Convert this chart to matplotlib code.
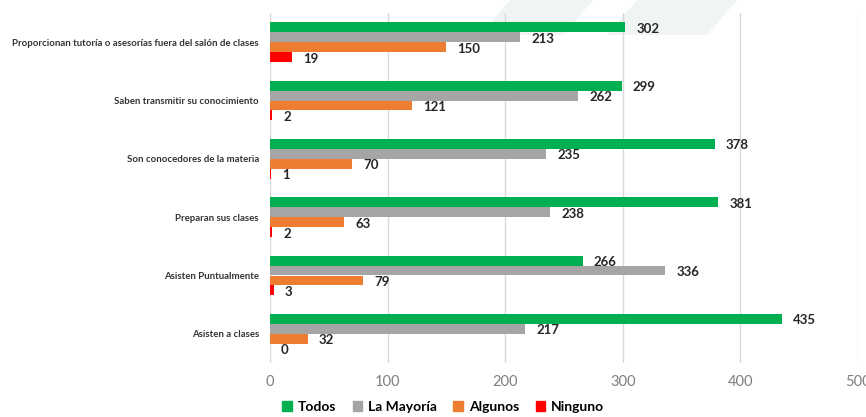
import matplotlib
matplotlib.use("Agg")
import matplotlib.pyplot as plt
from matplotlib.patches import Polygon
import numpy as np

categories = [
    "Proporcionan tutoría o asesorías fuera del salón de clases",
    "Saben transmitir su conocimiento",
    "Son conocedores de la materia",
    "Preparan sus clases",
    "Asisten Puntualmente",
    "Asisten a clases",
]
series_names = ["Todos", "La Mayoría", "Algunos", "Ninguno"]
todos = [302, 299, 378, 381, 266, 435]
mayoria = [213, 262, 235, 238, 336, 217]
algunos = [150, 121, 70, 63, 79, 32]
ninguno = [19, 2, 1, 2, 3, 0]
colors = ["#00B050", "#A5A5A5", "#ED7D31", "#FF0000"]
xticks = [0, 100, 200, 300, 400, 500]

plt.rcParams['font.family'] = ['Lato', 'DejaVu Sans']

W, H = 866, 417
fig = plt.figure(figsize=(W / 100, H / 100), dpi=100)

# faint background stripes (watermark)
def px(x, y):
    return (x / W, 1 - y / H)
for pts in [[(510, 0), (593, 0), (563, 35), (480, 35)],
            [(637, 0), (737, 0), (707, 35), (607, 35)]]:
    fig.patches.append(Polygon([px(*p) for p in pts], closed=True,
                               transform=fig.transFigure, facecolor="#F0F4F2",
                               edgecolor="none", zorder=-5))

ax = fig.add_axes([270 / W, 1 - 363 / H, (858 - 270) / W, (363 - 13) / H])
ax.set_facecolor("none")
ax.set_zorder(2)

n = len(categories)
ypos = np.arange(n)
bh = 0.171
all_series = [todos, mayoria, algunos, ninguno]
for i, (vals, c) in enumerate(zip(all_series, colors)):
    y = ypos + (i - 1.5) * bh
    ax.barh(y, vals, height=bh, color=c, zorder=3)
    for yy, v in zip(y, vals):
        ax.annotate(str(v), (v, yy), xytext=(8, -1), textcoords="offset points",
                    ha="left", va="center", fontsize=9.5, fontweight="bold",
                    color="#262626")

ax.set_ylim(n - 0.5, -0.5)
ax.set_xlim(0, 500)
ax.set_xticks(xticks)
ax.set_xticklabels([str(t) for t in xticks], fontsize=10.5, color="#7F7F7F")
ax.set_yticks(ypos)
ax.set_yticklabels(categories, fontsize=6.9, fontweight="bold", color="#333333")
ax.tick_params(axis="both", length=0)
ax.tick_params(axis="x", pad=9)
ax.tick_params(axis="y", pad=8)
ax.grid(axis="x", color="#D9D9D9", linewidth=1, zorder=0)
for s in ax.spines.values():
    s.set_visible(False)

handles = [plt.Rectangle((0, 0), 1, 1, color=c) for c in colors]
fig.legend(handles, series_names, loc="center", bbox_to_anchor=(443 / W, 1 - 407 / H),
           ncol=4, frameon=False, handlelength=0.7, handleheight=0.7,
           handletextpad=0.4, columnspacing=1.2,
           prop={"weight": "bold", "size": 10})

fig.savefig("out.png", dpi=100)
